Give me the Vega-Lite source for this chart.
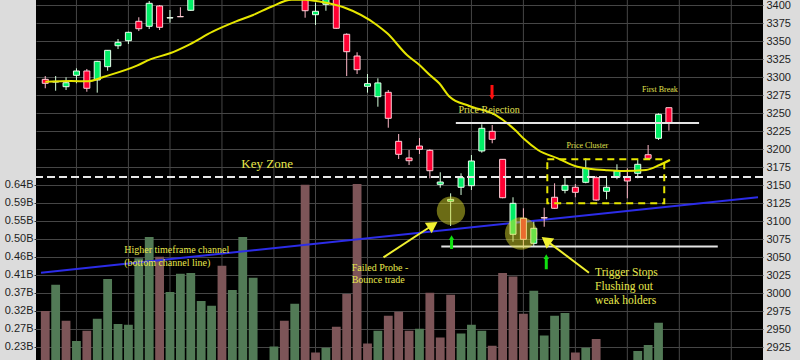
{
  "$schema": "https://vega.github.io/schema/vega-lite/v6.json",
  "width": 727,
  "height": 360,
  "autosize": {"type": "none"},
  "padding": {"left": 36, "top": 0, "right": 37, "bottom": 0},
  "background": "#dcdcdc",
  "config": {
    "view": {"fill": "#000000", "stroke": null},
    "axis": {"labelFont": "Liberation Sans", "labelFontSize": 11, "labelColor": "#1e1e1e", "labelOverlap": false}
  },
  "datasets": {
    "candles": [
      {"i":0,"o":3296.8,"h":3301.4,"l":3284.4,"c":3291.3,"v":0.320,"vd":"down"},
      {"i":1,"o":3293,"h":3301.4,"l":3281,"c":3294,"v":0.386,"vd":"up"},
      {"i":2,"o":3286.6,"h":3299.6,"l":3282,"c":3292.1,"v":0.295,"vd":"down"},
      {"i":3,"o":3302.4,"h":3312.1,"l":3291.3,"c":3308.4,"v":0.244,"vd":"up"},
      {"i":4,"o":3308.4,"h":3311.2,"l":3279.6,"c":3284.4,"v":0.270,"vd":"down"},
      {"i":5,"o":3295.9,"h":3322.5,"l":3278.3,"c":3321.8,"v":0.300,"vd":"up"},
      {"i":6,"o":3314.4,"h":3337.5,"l":3308.8,"c":3337.1,"v":0.401,"vd":"up"},
      {"i":7,"o":3343.5,"h":3352.8,"l":3338.9,"c":3348.2,"v":0.287,"vd":"up"},
      {"i":8,"o":3350.5,"h":3363,"l":3345.9,"c":3362.1,"v":0.285,"vd":"up"},
      {"i":9,"o":3377.4,"h":3383,"l":3363.9,"c":3367.1,"v":0.453,"vd":"up"},
      {"i":10,"o":3370.5,"h":3405.6,"l":3366.7,"c":3402.4,"v":0.507,"vd":"up"},
      {"i":11,"o":3398.7,"h":3400,"l":3365.3,"c":3369.1,"v":0.457,"vd":"down"},
      {"i":12,"o":3382,"h":3393.1,"l":3375.5,"c":3382.5,"v":0.368,"vd":"up"},
      {"i":13,"o":3384,"h":3396.9,"l":3383.5,"c":3383.7,"v":0.414,"vd":"up"},
      {"i":14,"o":3392.7,"h":3425,"l":3392,"c":3418,"v":0.416,"vd":"up"},
      {"i":15,"o":3418,"h":3436,"l":3412,"c":3430,"v":0.345,"vd":"up"},
      {"i":16,"o":3430,"h":3450,"l":3424,"c":3446,"v":0.333,"vd":"up"},
      {"i":17,"o":3446,"h":3452,"l":3430,"c":3436,"v":0.434,"vd":"down"},
      {"i":18,"o":3436,"h":3460,"l":3432,"c":3455,"v":0.373,"vd":"up"},
      {"i":19,"o":3455,"h":3474,"l":3450,"c":3470,"v":0.507,"vd":"up"},
      {"i":20,"o":3470,"h":3486,"l":3462,"c":3480,"v":0.404,"vd":"up"},
      {"i":21,"o":3480,"h":3488,"l":3470,"c":3476,"v":0.19,"vd":"down"},
      {"i":22,"o":3476,"h":3490,"l":3468,"c":3484,"v":0.230,"vd":"up"},
      {"i":23,"o":3484,"h":3488,"l":3450,"c":3455,"v":0.295,"vd":"down"},
      {"i":24,"o":3455,"h":3470,"l":3440,"c":3462,"v":0.338,"vd":"up"},
      {"i":25,"o":3440,"h":3445,"l":3382.4,"c":3392.1,"v":0.639,"vd":"down"},
      {"i":26,"o":3386.6,"h":3403.3,"l":3372.3,"c":3391.3,"v":0.215,"vd":"down"},
      {"i":27,"o":3401,"h":3418,"l":3392.1,"c":3412,"v":0.227,"vd":"up"},
      {"i":28,"o":3412,"h":3416,"l":3367,"c":3367.7,"v":0.280,"vd":"down"},
      {"i":29,"o":3359.4,"h":3360.7,"l":3301.4,"c":3335.2,"v":0.363,"vd":"down"},
      {"i":30,"o":3329.2,"h":3334.4,"l":3304.2,"c":3310.2,"v":0.641,"vd":"down"},
      {"i":31,"o":3287.1,"h":3304.2,"l":3278.3,"c":3290.8,"v":0.238,"vd":"down"},
      {"i":32,"o":3272.7,"h":3298.2,"l":3258.8,"c":3291.8,"v":0.270,"vd":"up"},
      {"i":33,"o":3278.8,"h":3282,"l":3229.6,"c":3242.7,"v":0.308,"vd":"down"},
      {"i":34,"o":3210.7,"h":3220.9,"l":3186.2,"c":3192.7,"v":0.318,"vd":"down"},
      {"i":35,"o":3187.6,"h":3198.7,"l":3177.8,"c":3183.8,"v":0.270,"vd":"down"},
      {"i":36,"o":3204.2,"h":3215.3,"l":3193.1,"c":3199.6,"v":0.275,"vd":"up"},
      {"i":37,"o":3198.2,"h":3199.6,"l":3159.4,"c":3169.9,"v":0.366,"vd":"down"},
      {"i":38,"o":3151,"h":3167.7,"l":3146.3,"c":3154.2,"v":0.253,"vd":"down"},
      {"i":39,"o":3127.4,"h":3138.5,"l":3093.1,"c":3130.1,"v":0.361,"vd":"down"},
      {"i":40,"o":3146.9,"h":3166.3,"l":3136.2,"c":3160.2,"v":0.263,"vd":"up"},
      {"i":41,"o":3149.1,"h":3191.7,"l":3143.1,"c":3183.4,"v":0.285,"vd":"up"},
      {"i":42,"o":3197.3,"h":3234.4,"l":3194.9,"c":3228.8,"v":0.270,"vd":"up"},
      {"i":43,"o":3224.6,"h":3233.4,"l":3208,"c":3213.5,"v":0.232,"vd":"down"},
      {"i":44,"o":3185.7,"h":3186,"l":3131.6,"c":3132.4,"v":0.416,"vd":"down"},
      {"i":45,"o":3081.6,"h":3133,"l":3071.3,"c":3124.6,"v":0.407,"vd":"down"},
      {"i":46,"o":3103.8,"h":3117.7,"l":3062.1,"c":3074.6,"v":0.313,"vd":"down"},
      {"i":47,"o":3069.1,"h":3099.1,"l":3064.4,"c":3089.9,"v":0.371,"vd":"up"},
      {"i":48,"o":3104.8,"h":3118.5,"l":3092.1,"c":3104.2,"v":0.258,"vd":"up"},
      {"i":49,"o":3133,"h":3152.4,"l":3117,"c":3117.7,"v":0.308,"vd":"up"},
      {"i":50,"o":3142.7,"h":3161.6,"l":3138.5,"c":3149.6,"v":0.315,"vd":"up"},
      {"i":51,"o":3146.9,"h":3151.4,"l":3133,"c":3139.9,"v":0.215,"vd":"down"},
      {"i":52,"o":3153.8,"h":3187.1,"l":3152.4,"c":3173.2,"v":0.227,"vd":"up"},
      {"i":53,"o":3160.2,"h":3162.6,"l":3128,"c":3129.2,"v":0.249,"vd":"down"},
      {"i":54,"o":3141.3,"h":3161.6,"l":3130.2,"c":3146.9,"v":0.19,"vd":"up"},
      {"i":55,"o":3160.7,"h":3178.8,"l":3158,"c":3169.5,"v":0.19,"vd":"up"},
      {"i":56,"o":3161.6,"h":3173.2,"l":3131.6,"c":3155.6,"v":0.19,"vd":"down"},
      {"i":57,"o":3166.3,"h":3184.8,"l":3159.4,"c":3178.8,"v":0.219,"vd":"up"},
      {"i":58,"o":3192.1,"h":3205.6,"l":3187,"c":3187.1,"v":0.234,"vd":"up"},
      {"i":59,"o":3214.9,"h":3249.6,"l":3212.6,"c":3248.2,"v":0.290,"vd":"up"},
      {"i":60,"o":3257.4,"h":3257.5,"l":3225.5,"c":3236.6,"v":0.19,"vd":"down"}
    ],
    "ma": [
      {"i":0,"p":3293.5},{"i":2.5,"p":3294.5},{"i":4.1,"p":3294.1},{"i":5.66,"p":3300.5},
      {"i":8.82,"p":3315.8},{"i":10.1,"p":3324.6},{"i":12,"p":3333},{"i":13.9,"p":3345.5},
      {"i":16.1,"p":3363},{"i":18.3,"p":3376.9},{"i":20,"p":3386.2},{"i":21.8,"p":3398},
      {"i":23.7,"p":3407.5},{"i":25,"p":3407.5},{"i":26.5,"p":3404.6},{"i":28.7,"p":3396.9},
      {"i":31.9,"p":3372.3},{"i":32.9,"p":3360.7},{"i":34.8,"p":3330.6},{"i":36,"p":3316.7},
      {"i":37,"p":3302.8},{"i":37.9,"p":3291.3},{"i":38.9,"p":3272.7},{"i":40.8,"p":3259.8},
      {"i":43.3,"p":3247.3},{"i":45.2,"p":3226.4},{"i":46.1,"p":3213.5},{"i":47.4,"p":3198.7},
      {"i":49.3,"p":3187.1},{"i":51.2,"p":3175.5},{"i":54.1,"p":3170.5},{"i":55.6,"p":3169.5},
      {"i":57.8,"p":3170.9},{"i":59.1,"p":3177.8},{"i":60.1,"p":3184.8}
    ]
  },
  "layer": [
    {
      "data": {"values": [{"i":3},{"i":8},{"i":12},{"i":17},{"i":22},{"i":26},{"i":31},{"i":36},{"i":41},{"i":46},{"i":51},{"i":56},{"i":61},{"i":66}]},
      "mark": {"type": "rule", "color": "#464646", "strokeWidth": 1},
      "encoding": {
        "x": {"field": "i", "type": "quantitative", "scale": {"domain": [-0.41, 68.57], "nice": false, "zero": false}, "axis": null}
      }
    },
    {
      "data": {"name": "candles"},
      "mark": {"type": "bar", "size": 8.8, "clip": true},
      "encoding": {
        "x": {"field": "i", "type": "quantitative", "axis": null},
        "y": {
          "field": "v", "type": "quantitative",
          "scale": {"domain": [0.196, 1.106], "nice": false, "zero": false},
          "axis": {"orient": "left", "values": [0.229, 0.2745, 0.32, 0.3655, 0.411, 0.4565, 0.502, 0.5475, 0.593, 0.6385],
                   "tickCount": 30, "labelExpr": "format(datum.value, '.2f') + 'B'", "grid": false, "domain": false,
                   "tickSize": 2, "tickColor": "#333333", "labelPadding": 1, "title": null}
        },
        "color": {"field": "vd", "type": "nominal", "scale": {"domain": ["up", "down"], "range": ["#527a56", "#7d5558"]}, "legend": null}
      }
    },
    {
      "layer": [
        {
          "data": {"values": [{"i": -0.41, "p": 3028.3}, {"i": 68.57, "p": 3133.2}]},
          "mark": {"type": "line", "color": "#2c2ce8", "strokeWidth": 2, "clip": true},
          "encoding": {
            "x": {"field": "i", "type": "quantitative", "axis": null},
            "y": {
              "field": "p", "type": "quantitative",
              "scale": {"domain": [2907, 3407], "nice": false, "zero": false},
              "axis": {"orient": "right", "values": [2925,2950,2975,3000,3025,3050,3075,3100,3125,3150,3175,3200,3225,3250,3275,3300,3325,3350,3375,3400],
                       "tickCount": 40, "format": "d", "grid": true, "gridColor": "#464646", "ticks": false, "domain": false,
                       "labelPadding": 3, "title": null, "labelOverlap": false}
            }
          }
        },
        {
          "data": {"name": "candles"},
          "mark": {"type": "rule", "strokeWidth": 1, "clip": true},
          "encoding": {
            "x": {"field": "i", "type": "quantitative", "axis": null},
            "y": {"field": "l", "type": "quantitative"},
            "y2": {"field": "h"},
            "color": {"condition": {"test": "datum.c >= datum.o", "value": "#d4ffdc"}, "value": "#ffb8c8"}
          }
        },
        {
          "data": {"name": "candles"},
          "mark": {"type": "bar", "size": 6, "strokeWidth": 1, "clip": true},
          "encoding": {
            "x": {"field": "i", "type": "quantitative", "axis": null},
            "y": {"field": "o", "type": "quantitative"},
            "y2": {"field": "c"},
            "fill": {"condition": {"test": "datum.c >= datum.o", "value": "#00ee66"}, "value": "#ff0033"},
            "stroke": {"condition": {"test": "datum.c >= datum.o", "value": "#eaffee"}, "value": "#ffd0d8"}
          }
        },
        {
          "data": {"name": "ma"},
          "mark": {"type": "line", "color": "#e6e600", "strokeWidth": 2, "interpolate": "monotone", "clip": true},
          "encoding": {
            "x": {"field": "i", "type": "quantitative", "axis": null},
            "y": {"field": "p", "type": "quantitative"}
          }
        },
        {
          "data": {"values": [{"p": 3161}]},
          "mark": {"type": "rule", "color": "#e8e8e8", "strokeWidth": 2, "strokeDash": [8, 4]},
          "encoding": {"y": {"field": "p", "type": "quantitative"}}
        },
        {
          "data": {"values": [{"i": 39.5, "i2": 62.9, "p": 3236.2}, {"i": 38.1, "i2": 64.7, "p": 3064.6}]},
          "mark": {"type": "rule", "color": "#e4e4e4", "strokeWidth": 2},
          "encoding": {
            "x": {"field": "i", "type": "quantitative", "axis": null},
            "x2": {"field": "i2"},
            "y": {"field": "p", "type": "quantitative"}
          }
        },
        {
          "data": {"values": [{"i": 48.3, "i2": 59.55, "p": 3185.75, "p2": 3124.6}]},
          "mark": {"type": "rect", "fill": "transparent", "stroke": "#e6e600", "strokeWidth": 2, "strokeDash": [7, 5]},
          "encoding": {
            "x": {"field": "i", "type": "quantitative", "axis": null},
            "x2": {"field": "i2"},
            "y": {"field": "p", "type": "quantitative"},
            "y2": {"field": "p2"}
          }
        },
        {
          "data": {"values": [{"i": 39.03, "p": 3114.4}]},
          "mark": {"type": "point", "shape": "circle", "filled": true, "color": "#d6d62a", "opacity": 0.5, "size": 804},
          "encoding": {
            "x": {"field": "i", "type": "quantitative", "axis": null},
            "y": {"field": "p", "type": "quantitative"}
          }
        },
        {
          "data": {"values": [{"i": 45.78, "p": 3082.7}]},
          "mark": {"type": "point", "shape": "circle", "filled": true, "color": "#d6d62a", "opacity": 0.5, "size": 1050},
          "encoding": {
            "x": {"field": "i", "type": "quantitative", "axis": null},
            "y": {"field": "p", "type": "quantitative"}
          }
        },
        {
          "data": {"values": [{"i": 32.54, "p": 3049.6, "i2": 37.29, "p2": 3094.5}, {"i": 52.31, "p": 3028.25, "i2": 48.18, "p2": 3073.2}]},
          "mark": {"type": "rule", "color": "#f0f030", "strokeWidth": 2},
          "encoding": {
            "x": {"field": "i", "type": "quantitative", "axis": null},
            "x2": {"field": "i2"},
            "y": {"field": "p", "type": "quantitative"},
            "y2": {"field": "p2"}
          }
        },
        {
          "data": {"values": [{"i": 37.29, "p": 3094.5}]},
          "mark": {"type": "point", "shape": "triangle-up", "filled": true, "color": "#f0f030", "opacity": 1, "size": 160, "angle": 57},
          "encoding": {
            "x": {"field": "i", "type": "quantitative", "axis": null},
            "y": {"field": "p", "type": "quantitative"}
          }
        },
        {
          "data": {"values": [{"i": 48.18, "p": 3073.2}]},
          "mark": {"type": "point", "shape": "triangle-up", "filled": true, "color": "#f0f030", "opacity": 1, "size": 160, "angle": 307},
          "encoding": {
            "x": {"field": "i", "type": "quantitative", "axis": null},
            "y": {"field": "p", "type": "quantitative"}
          }
        },
        {
          "data": {"values": [{"i": 42.98, "p": 3289, "p2": 3273.7}]},
          "mark": {"type": "rule", "color": "#ff1010", "strokeWidth": 3},
          "encoding": {
            "x": {"field": "i", "type": "quantitative", "axis": null},
            "y": {"field": "p", "type": "quantitative"},
            "y2": {"field": "p2"}
          }
        },
        {
          "data": {"values": [{"i": 42.98, "p": 3271.6}]},
          "mark": {"type": "point", "shape": "triangle-down", "filled": true, "color": "#ff1010", "opacity": 1, "size": 30},
          "encoding": {
            "x": {"field": "i", "type": "quantitative", "axis": null},
            "y": {"field": "p", "type": "quantitative"}
          }
        },
        {
          "data": {"values": [{"i": 39.09, "p": 3061.2, "p2": 3076}, {"i": 48.2, "p": 3033, "p2": 3049.5}]},
          "mark": {"type": "rule", "color": "#10e010", "strokeWidth": 3},
          "encoding": {
            "x": {"field": "i", "type": "quantitative", "axis": null},
            "y": {"field": "p", "type": "quantitative"},
            "y2": {"field": "p2"}
          }
        },
        {
          "data": {"values": [{"i": 39.09, "p": 3077.1}, {"i": 48.2, "p": 3050.7}]},
          "mark": {"type": "point", "shape": "triangle-up", "filled": true, "color": "#10e010", "opacity": 1, "size": 30},
          "encoding": {
            "x": {"field": "i", "type": "quantitative", "axis": null},
            "y": {"field": "p", "type": "quantitative"}
          }
        },
        {
          "data": {"values": [{"i": 21.35, "p": 3179.2, "t": "Key Zone"}]},
          "mark": {"type": "text", "font": "Liberation Serif", "fontSize": 13, "color": "#e8e84c", "align": "center", "baseline": "middle"},
          "encoding": {
            "x": {"field": "i", "type": "quantitative", "axis": null},
            "y": {"field": "p", "type": "quantitative"},
            "text": {"field": "t"}
          }
        },
        {
          "data": {"values": [{"i": 42.7, "p": 3254.2, "t": "Price Rejection"}]},
          "mark": {"type": "text", "font": "Liberation Serif", "fontSize": 10, "color": "#e0e050", "align": "center", "baseline": "middle"},
          "encoding": {
            "x": {"field": "i", "type": "quantitative", "axis": null},
            "y": {"field": "p", "type": "quantitative"},
            "text": {"field": "t"}
          }
        },
        {
          "data": {"values": [{"i": 59.13, "p": 3282, "t": "First Break"}, {"i": 52.15, "p": 3204.2, "t": "Price Cluster"}]},
          "mark": {"type": "text", "font": "Liberation Serif", "fontSize": 8, "color": "#e0e050", "align": "center", "baseline": "middle"},
          "encoding": {
            "x": {"field": "i", "type": "quantitative", "axis": null},
            "y": {"field": "p", "type": "quantitative"},
            "text": {"field": "t"}
          }
        },
        {
          "data": {"values": [{"i": 7.6, "p": 3059.8, "t": "Higher timeframe channel"}, {"i": 7.6, "p": 3042.1, "t": "(bottom channel line)"},
                              {"i": 29.48, "p": 3035.2, "t": "Failed Probe -"}, {"i": 29.48, "p": 3018.1, "t": "Bounce trade"}]},
          "mark": {"type": "text", "font": "Liberation Serif", "fontSize": 10, "color": "#e8e84c", "align": "left", "baseline": "middle"},
          "encoding": {
            "x": {"field": "i", "type": "quantitative", "axis": null},
            "y": {"field": "p", "type": "quantitative"},
            "text": {"field": "t"}
          }
        },
        {
          "data": {"values": [{"i": 52.9, "p": 3027.4, "t": "Trigger Stops"}, {"i": 52.9, "p": 3008, "t": "Flushing out"}, {"i": 52.9, "p": 2988.5, "t": "weak holders"}]},
          "mark": {"type": "text", "font": "Liberation Serif", "fontSize": 11.5, "color": "#e8e84c", "align": "left", "baseline": "middle"},
          "encoding": {
            "x": {"field": "i", "type": "quantitative", "axis": null},
            "y": {"field": "p", "type": "quantitative"},
            "text": {"field": "t"}
          }
        }
      ]
    }
  ],
  "resolve": {"scale": {"y": "independent"}}
}
